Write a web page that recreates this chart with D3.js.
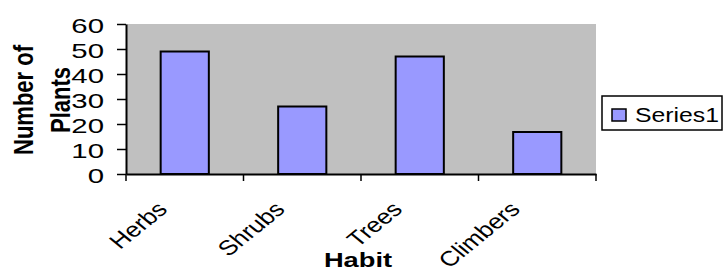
<!DOCTYPE html>
<meta charset="utf-8">
<script src="https://d3js.org/d3.v7.min.js"></script>
<style>
  body { margin: 0; background: #fff; }
  text { font-family: "Liberation Sans", Arial, sans-serif; fill: #000; }
</style>
<body>
<script>
// Chart data
var habits = ["Herbs", "Shrubs", "Trees", "Climbers"];
var plants = [49, 27, 47, 16.8];
var yTicks = [0, 10, 20, 30, 40, 50, 60];
var seriesName = "Series1";

var width = 723, height = 271;
var plot = {left: 126, right: 596, top: 24, bottom: 174};

var svg = d3.select("body")
  .append("svg")
  .attr("width", width)
  .attr("height", height);

var x = d3.scaleBand()
    .domain(habits)
    .range([plot.left, plot.right])
    .paddingInner(0)
    .paddingOuter(0);

var y = d3.scaleLinear()
    .domain([0, 60])
    .range([plot.bottom, plot.top]);

// Grey plot area
svg.append("rect")
    .attr("x", plot.left)
    .attr("y", plot.top)
    .attr("width", plot.right - plot.left)
    .attr("height", plot.bottom - plot.top)
    .attr("fill", "#c0c0c0");

// Bars
var barW = x.bandwidth() * 0.41;
svg.selectAll(".bar")
    .data(habits)
    .enter()
    .append("rect")
    .attr("class", "bar")
    .attr("x", function(d) { return x(d) + x.bandwidth() / 2 - barW / 2; })
    .attr("y", function(d, i) { return y(plants[i]); })
    .attr("width", barW)
    .attr("height", function(d, i) { return y(0) - y(plants[i]); })
    .attr("fill", "#9999ff")
    .attr("stroke", "#000")
    .attr("stroke-width", 2);

// Y axis
var yAxis = svg.append("g")
    .attr("transform", "translate(" + plot.left + ",0)")
    .call(d3.axisLeft(y).tickValues(yTicks).tickSize(9).tickSizeOuter(0));
yAxis.select(".domain").attr("stroke-width", 2);
yAxis.selectAll(".tick line").attr("stroke-width", 1.5);
yAxis.selectAll(".tick text")
    .attr("x", 0)
    .attr("dy", "0.35em")
    .attr("transform", "translate(-22,1) scale(1.4,1)")
    .style("font-size", "21px")
    .style("font-family", "'Liberation Sans', Arial, sans-serif");

// X axis line, ticks between categories
var xAxis = svg.append("g")
    .attr("transform", "translate(0," + plot.bottom + ")")
    .call(d3.axisBottom(x).tickSize(0).tickFormat(""));
xAxis.select(".domain").attr("stroke-width", 2);

var bounds = habits.map(function(d) { return x(d); }).concat([plot.right]);
xAxis.selectAll(".bound")
    .data(bounds)
    .enter()
    .append("line")
    .attr("class", "bound")
    .attr("x1", function(d) { return d; })
    .attr("x2", function(d) { return d; })
    .attr("y1", 0)
    .attr("y2", 7)
    .attr("stroke", "#000")
    .attr("stroke-width", 1.5);

// Rotated category labels
svg.selectAll(".cat")
    .data(habits)
    .enter()
    .append("text")
    .attr("class", "cat")
    .attr("transform", function(d) {
        return "translate(" + (x(d) + x.bandwidth() / 2 - 16) + ",210.5) scale(1.23,1) rotate(-45)";
    })
    .attr("text-anchor", "end")
    .style("font-size", "21px")
    .text(function(d) { return d; });

// Axis titles
svg.append("text")
    .attr("transform", "translate(358,267) scale(1.3,1)")
    .attr("text-anchor", "middle")
    .style("font-size", "21px")
    .style("font-weight", "bold")
    .text("Habit");

var yTitle = svg.append("text")
    .attr("transform", "translate(0,100) scale(1.25,1) rotate(-90)")
    .attr("text-anchor", "middle")
    .style("font-size", "22px")
    .style("font-weight", "bold");
yTitle.append("tspan").attr("x", 0).attr("y", 26.4).text("Number of");
yTitle.append("tspan").attr("x", 0).attr("y", 56).text("Plants");

// Legend
var legend = svg.append("g");
legend.append("rect")
    .attr("x", 602)
    .attr("y", 96)
    .attr("width", 120)
    .attr("height", 34)
    .attr("fill", "#fff")
    .attr("stroke", "#000")
    .attr("stroke-width", 1.5);
legend.append("rect")
    .attr("x", 612)
    .attr("y", 109)
    .attr("width", 14)
    .attr("height", 12)
    .attr("fill", "#9999ff")
    .attr("stroke", "#000")
    .attr("stroke-width", 1.5);
legend.append("text")
    .attr("transform", "translate(635,121.5) scale(1.18,1)")
    .style("font-size", "21px")
    .text(seriesName);
</script>
</body>
</html>
